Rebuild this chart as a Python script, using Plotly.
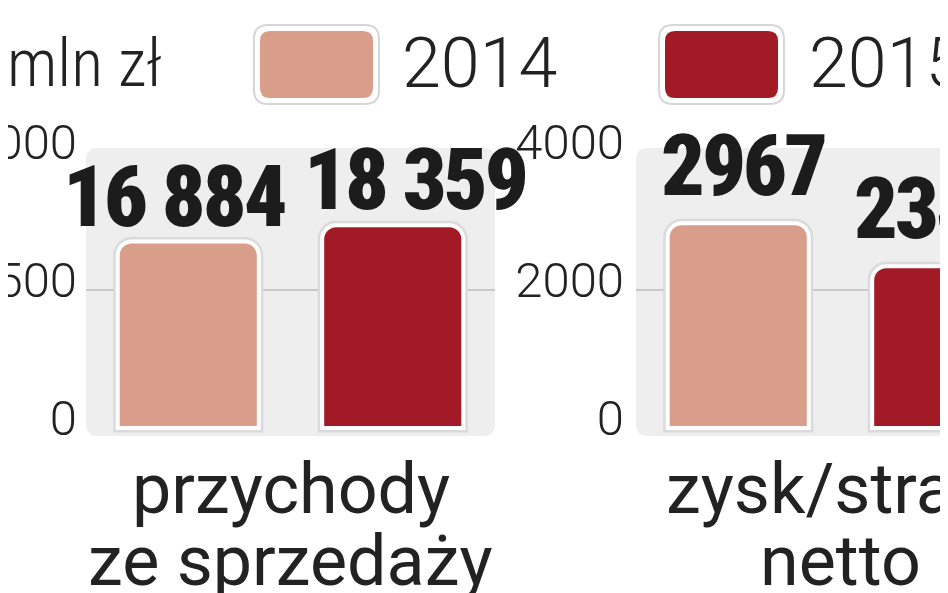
import plotly.graph_objects as go
from plotly.subplots import make_subplots

# ---------------- data ----------------
years = ["2014", "2015"]
year_colors = ["#d89e89", "#a31a27"]
categories = ["przychody<br>ze sprzedaży", "zysk/strata<br>netto"]
values_przychody = [16884, 18359]
values_zysk = [2967, 2345]
labels_przychody = ["16 884", "18 359"]
labels_zysk = ["2967", "2345"]
ticks_przychody = [0, 12500, 25000]
ticklabels_przychody = ["0", "12 500", "25 000"]
ticks_zysk = [0, 2000, 4000]
ticklabels_zysk = ["0", "2000", "4000"]
unit_label = "mln zł"

W, H = 948, 593


def X(px):
    return px / W


def Y(py):
    return 1 - py / H


def rrect(x0, y0, x1, y1, r):
    return (f"M {X(x0 + r)},{Y(y0)} L {X(x1 - r)},{Y(y0)} "
            f"Q {X(x1)},{Y(y0)} {X(x1)},{Y(y0 + r)} L {X(x1)},{Y(y1 - r)} "
            f"Q {X(x1)},{Y(y1)} {X(x1 - r)},{Y(y1)} L {X(x0 + r)},{Y(y1)} "
            f"Q {X(x0)},{Y(y1)} {X(x0)},{Y(y1 - r)} L {X(x0)},{Y(y0 + r)} "
            f"Q {X(x0)},{Y(y0)} {X(x0 + r)},{Y(y0)} Z")


VAL_STYLE = "font-stretch:75%;letter-spacing:-3px"
VAL_FONT = dict(family="Roboto, sans-serif", size=86, color="#1c1c1c", weight=900)
TICK_FONT = dict(family="Roboto, sans-serif", size=49, color="#222222", weight=300)
CAT_FONT = dict(family="Roboto, sans-serif", size=70, color="#222222")
LEG_FONT = dict(family="Roboto, sans-serif", size=66, color="#222222", weight=300)

fig = make_subplots(rows=1, cols=2)

panels = [
    (values_przychody, labels_przychody, 1),
    (values_zysk, labels_zysk, 2),
]
for vals, labs, col in panels:
    # soft grey halo behind bars
    fig.add_trace(go.Bar(
        x=years, y=vals,
        marker=dict(color="#dadada", line=dict(color="#dadada", width=9)),
        width=0.69, showlegend=False, hoverinfo="skip"), row=1, col=col)
    fig.add_trace(go.Bar(
        x=years, y=vals,
        marker=dict(color=year_colors, line=dict(color="white", width=4)),
        width=0.69, showlegend=False, hoverinfo="skip"), row=1, col=col)

# plot area: y from 140px to 428px
ydom = [Y(428), Y(140)]
px_per_unit_x = (487 - 78) / 2.0

fig.update_layout(
    width=W, height=H,
    margin=dict(l=0, r=0, t=0, b=0, autoexpand=False),
    paper_bgcolor="white", plot_bgcolor="rgba(0,0,0,0)",
    barmode="overlay", barcornerradius=14,
    xaxis=dict(type="category", domain=[X(78), X(487)], range=[-0.5, 1.5],
               showticklabels=False, showgrid=False, zeroline=False, fixedrange=True,
               automargin=False),
    xaxis2=dict(type="category", domain=[X(628), 1.0],
                range=[-0.5, -0.5 + (W - 628) / px_per_unit_x],
                showticklabels=False, showgrid=False, zeroline=False, fixedrange=True,
                automargin=False),
    yaxis=dict(domain=ydom, range=[-12500 * 8 / 138, 12500 * 280 / 138],
               tickvals=ticks_przychody, ticktext=ticklabels_przychody,
               tickfont=TICK_FONT, showgrid=False, zeroline=False, ticks="",
               ticklabelstandoff=8, ticklabelshift=-10, fixedrange=True, automargin=False),
    yaxis2=dict(domain=ydom, range=[-2000 * 8 / 138, 2000 * 280 / 138],
                tickvals=ticks_zysk, ticktext=ticklabels_zysk,
                tickfont=TICK_FONT, showgrid=False, zeroline=False, ticks="",
                ticklabelstandoff=11, ticklabelshift=-10, fixedrange=True, automargin=False),
)

shapes = []
# panel backgrounds
shapes.append(dict(type="path", xref="paper", yref="paper", path=rrect(78, 140, 487, 428, 12),
                   fillcolor="#eeeeee", line=dict(width=0), layer="below"))
shapes.append(dict(type="path", xref="paper", yref="paper", path=rrect(628, 140, 1040, 428, 12),
                   fillcolor="#eeeeee", line=dict(width=0), layer="below"))
# mid gridlines
shapes.append(dict(type="line", xref="x domain", yref="y", x0=0, x1=1,
                   y0=ticks_przychody[1], y1=ticks_przychody[1],
                   line=dict(color="#c9c9c9", width=2), layer="below"))
shapes.append(dict(type="line", xref="x2 domain", yref="y2", x0=0, x1=1,
                   y0=ticks_zysk[1], y1=ticks_zysk[1],
                   line=dict(color="#c9c9c9", width=2), layer="below"))

# legend swatches
swatch_x = [247, 652]
text_x = [395, 802]
for i, yr in enumerate(years):
    sx = swatch_x[i]
    shapes.append(dict(type="path", xref="paper", yref="paper",
                       path=rrect(sx - 2, 16, sx + 125, 97, 15),
                       fillcolor="#d6d6d6", line=dict(width=0)))
    shapes.append(dict(type="path", xref="paper", yref="paper",
                       path=rrect(sx, 18, sx + 123, 95, 13),
                       fillcolor="white", line=dict(width=0)))
    shapes.append(dict(type="path", xref="paper", yref="paper",
                       path=rrect(sx + 5, 23, sx + 118, 90, 10),
                       fillcolor=year_colors[i], line=dict(width=0)))
fig.update_layout(shapes=shapes)

annotations = []
annotations.append(dict(text=f"<span style='font-stretch:87%'>{unit_label}</span>",
                        xref="paper", yref="paper", x=X(-3), y=Y(55),
                        xanchor="left", yanchor="middle", showarrow=False, font=LEG_FONT))
for i, yr in enumerate(years):
    annotations.append(dict(text=yr, xref="paper", yref="paper", x=X(text_x[i] - 3), y=Y(55),
                            xanchor="left", yanchor="middle", showarrow=False,
                            font=dict(LEG_FONT, size=70)))

# value labels above bars (category axes: position = category index)
label_dx = [[-14, 22], [5, -7]]
label_dy = [-7, 5]
for p, (vals, labs, col) in enumerate(panels):
    xr = "x" if col == 1 else "x2"
    yr_ = "y" if col == 1 else "y2"
    for k, (yv, lab) in enumerate(zip(vals, labs)):
        annotations.append(dict(
            text=f"<span style='{VAL_STYLE}'>{lab}</span>",
            xref=xr, yref=yr_, x=k, y=yv,
            xanchor="center", yanchor="bottom", xshift=label_dx[p][k], yshift=label_dy[p],
            showarrow=False, font=VAL_FONT))

# category labels below panels
cat_centers = [X((78 + 487) / 2), X(628 + 1.0 * px_per_unit_x)]
for i, cat in enumerate(categories):
    for j, line in enumerate(cat.split("<br>")):
        annotations.append(dict(text=line, xref="paper", yref="paper",
                                x=cat_centers[i], y=Y(481 + 72 * j),
                                xanchor="center", yanchor="middle",
                                showarrow=False, font=CAT_FONT))
fig.update_layout(annotations=annotations)

fig.write_html("out.html")
